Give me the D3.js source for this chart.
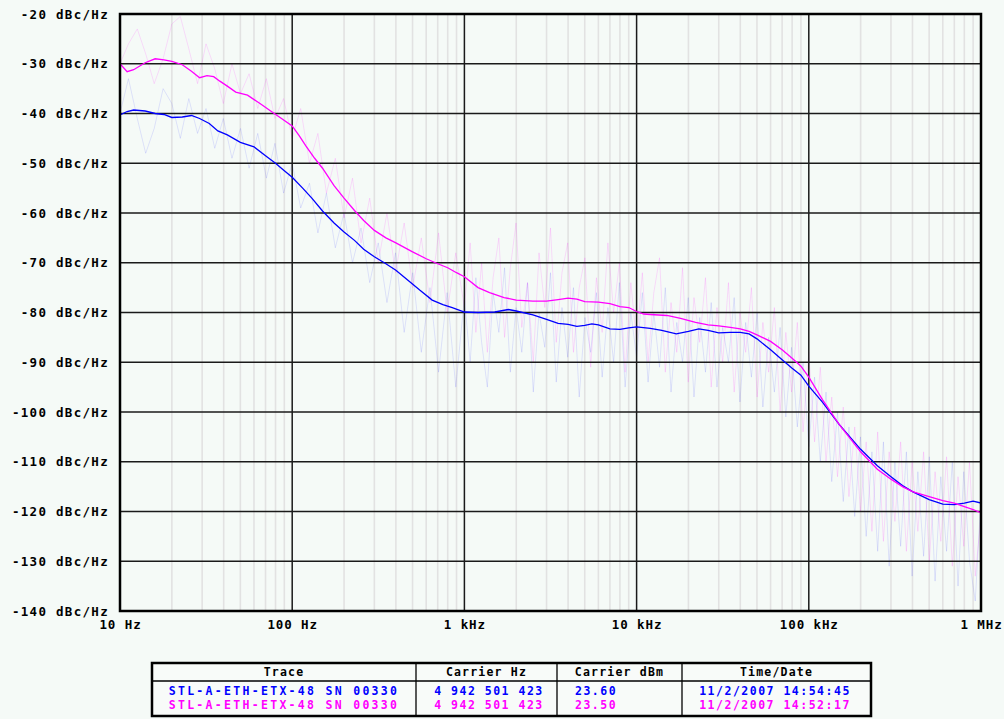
<!DOCTYPE html>
<html>
<head>
<meta charset="utf-8">
<script src="https://cdn.jsdelivr.net/npm/d3@7"></script>
<style>
  html, body { margin: 0; padding: 0; background: #f5faf7; }
  svg { display: block; }
  text { font-family: "DejaVu Sans Mono", monospace; font-weight: bold; }
</style>
</head>
<body>
<svg id="chart" width="1004" height="719"></svg>
<script>
// ---- Axis ticks ----
const yTicks = [-20, -30, -40, -50, -60, -70, -80, -90, -100, -110, -120, -130, -140];
const xTicks = [10, 100, 1000, 10000, 100000, 1000000];
const xTickLabels = ["10 Hz", "100 Hz", "1 kHz", "10 kHz", "100 kHz", "1 MHz"];

// ---- Smoothed phase-noise trace, blue (Hz, dBc/Hz) ----
const blueFreq = [10, 11, 12, 14, 16, 18, 20, 23, 26, 29, 33, 37, 42, 50, 60, 70, 80, 90, 100,
  115, 130, 150, 175, 200, 230, 260, 300, 350, 400, 470, 550, 650, 750, 850, 1000,
  1200, 1500, 1800, 2000, 2500, 3000, 3500, 4000, 4500, 5000, 5500, 6000, 7000, 8000, 9000, 10000,
  12000, 14000, 17000, 20000, 23000, 26000, 30000, 35000, 40000, 45000, 50000, 60000, 70000, 80000, 90000, 100000,
  120000, 150000, 200000, 250000, 300000, 350000, 400000, 500000, 600000, 700000, 800000, 900000, 1000000];
const blueDb = [-40.3, -39.6, -39.3, -39.5, -40, -40.2, -40.8, -40.7, -40.4, -41, -42, -43.5, -44.3, -45.8, -46.7, -48.5, -50, -51.5, -52.8,
  -55, -57, -59.6, -62, -63.8, -65.5, -67.3, -68.8, -70.2, -71.5, -73.5, -75.5, -77.5, -78.4, -79, -79.9,
  -80, -79.9, -79.4, -79.7, -80.5, -81.4, -82.2, -82.4, -82.8, -82.6, -82.3, -82.5, -83.3, -83.4, -83.1, -82.9,
  -83.2, -83.6, -84.3, -83.8, -83.3, -83.6, -84.1, -84, -84, -84.3, -85.3, -87.5, -89.5, -91.2, -92.6, -94.8,
  -98, -102.5, -107.5, -110.8, -113, -114.8, -116, -117.6, -118.5, -118.6, -118.3, -117.9, -118.3];

// ---- Smoothed phase-noise trace, magenta (Hz, dBc/Hz) ----
const magentaFreq = [10, 11, 12, 14, 16, 18, 20, 23, 26, 29, 32, 35, 38, 42, 47, 55, 65, 75, 85, 100,
  110, 120, 135, 150, 175, 200, 230, 260, 300, 350, 400, 500, 600, 700, 800, 900, 1000,
  1200, 1400, 1700, 2000, 2500, 3000, 3500, 4000, 4500, 5000, 6000, 7000, 8000, 9000, 10000, 11000,
  12000, 15000, 18000, 22000, 26000, 30000, 35000, 40000, 45000, 50000, 60000, 70000, 80000, 90000, 100000,
  120000, 150000, 200000, 250000, 300000, 350000, 400000, 500000, 600000, 700000, 800000, 900000, 1000000];
const magentaDb = [-30, -31.6, -31.2, -29.8, -29, -29.2, -29.5, -30.2, -31.5, -32.8, -32.4, -32.6, -33.5, -34.5, -35.7, -36.3, -38, -39.5, -40.8, -42.5,
  -44.5, -46.5, -49, -51, -54.5, -57, -59.5, -61.5, -63.5, -65, -66, -67.8, -69.2, -70.2, -71, -72, -72.8,
  -75, -76, -77, -77.5, -77.7, -77.7, -77.4, -77.1, -77.3, -77.8, -77.9, -78.2, -78.8, -79, -79.8, -80.3,
  -80.4, -80.6, -81.2, -82, -82.5, -82.7, -83, -83.3, -83.8, -84.5, -85.8, -87.5, -89.2, -90.8, -93,
  -97.5, -102.5, -108, -111.5, -113.5, -115, -116, -117, -117.8, -118.3, -119, -119.6, -120.3];

// ---- Unsmoothed measurement sweeps (Hz, dBc/Hz) ----
const rawFreq = [10, 11.2, 12.6, 14.1, 15.8, 17.8, 20, 22.4, 25.1, 28.2, 31.6, 35.5, 39.8, 44.7, 50.1, 56.2, 63.1, 70.8, 79.4, 89.1,
  100, 112, 126, 141, 158, 178, 200, 224, 251, 282, 316, 355, 398, 447, 501, 562, 631, 708, 794, 891,
  1000, 1080, 1166, 1259, 1359, 1468, 1585, 1711, 1848, 1995, 2154, 2326, 2512, 2712, 2929, 3162, 3415, 3687, 3981, 4299,
  4642, 5012, 5412, 5843, 6310, 6813, 7356, 7943, 8577, 9261,
  10000, 10800, 11660, 12590, 13590, 14680, 15850, 17110, 18480, 19950, 21540, 23260, 25120, 27120, 29290, 31620, 34150, 36870, 39810, 42990,
  46420, 50120, 54120, 58430, 63100, 68130, 73560, 79430, 85770, 92610,
  100000, 108000, 116600, 125900, 135900, 146800, 158500, 171100, 184800, 199500, 215400, 232600, 251200, 271200, 292900, 316200, 341500, 368700, 398100, 429900,
  464200, 501200, 541200, 584300, 631000, 681300, 735600, 794300, 857700, 926100, 1000000];
const rawMagentaDb = [-30, -26, -23, -28, -34, -29, -22, -20.5, -27, -34, -26, -31, -38, -30, -36, -32, -39, -33, -41, -37,
  -45, -39, -50, -44, -56, -49, -61, -53, -66, -57, -70, -60, -72, -62, -75, -65, -78, -64, -80, -68,
  -79, -66, -84, -70, -88, -73, -65, -85, -71, -62, -83, -74, -90, -68, -79, -63, -86, -72, -66, -88,
  -75, -69, -91, -73, -84, -66, -80, -70, -92, -74,
  -86, -72, -90, -76, -69, -92, -78, -88, -71, -94, -77, -86, -73, -95, -79, -90, -74, -96, -80, -88,
  -75, -97, -82, -92, -79, -100, -84, -96, -82, -104,
  -88, -106, -91, -110, -97, -113, -99, -117, -103, -120, -106, -124, -104, -126, -108, -122, -106, -128, -110, -124,
  -108, -130, -112, -126, -109, -131, -113, -127, -110, -133, -121];
const rawBlueDb = [-40, -33, -41, -48, -43, -35, -38, -45, -37, -44, -39, -47, -41, -49, -43, -51, -44, -53, -46, -56,
  -50, -59, -54, -64, -56, -67, -60, -70, -63, -74, -66, -78, -68, -84, -72, -88, -75, -92, -76, -95,
  -77, -90, -73, -86, -95, -76, -84, -71, -92, -79, -88, -74, -96, -80, -87, -72, -94, -79, -89, -75,
  -97, -81, -88, -76, -93, -79, -90, -74, -95, -80,
  -89, -76, -94, -80, -91, -75, -96, -82, -90, -77, -97, -81, -92, -78, -95, -83, -90, -77, -98, -82,
  -93, -80, -99, -85, -96, -83, -101, -87, -103, -90,
  -107, -93, -110, -96, -114, -100, -118, -103, -121, -105, -125, -108, -128, -106, -131, -110, -127, -108, -133, -112,
  -129, -109, -134, -113, -128, -110, -135, -112, -130, -138, -117];

// ---- Legend table ----
const legendColumns = ["Trace", "Carrier Hz", "Carrier dBm", "Time/Date"];
const traceNames = ["STL-A-ETH-ETX-48 SN 00330", "STL-A-ETH-ETX-48 SN 00330"];
const carrierHz = ["4 942 501 423", "4 942 501 423"];
const carrierDbm = ["23.60", "23.50"];
const timeDate = ["11/2/2007 14:54:45", "11/2/2007 14:52:17"];
const traceColors = ["#0000ff", "#ff00ff"];

// ---- Layout ----
const plot = { left: 120, right: 981, top: 14, bottom: 611 };
const svg = d3.select("#chart");

const x = d3.scaleLog().domain([10, 1e6]).range([plot.left, plot.right]);
const y = d3.scaleLinear().domain([-140, -20]).range([plot.bottom, plot.top]);

svg.append("rect").attr("width", 1004).attr("height", 719).attr("fill", "#f5faf7");

// Minor vertical grid (2..9 within each decade)
const minor = x.ticks().filter(v => !xTicks.includes(v));
svg.append("g").selectAll("line").data(minor).join("line")
  .attr("x1", d => x(d)).attr("x2", d => x(d))
  .attr("y1", plot.top).attr("y2", plot.bottom)
  .attr("stroke", "#e2e2e2").attr("stroke-width", 1.6);

// Clip region for the traces
svg.append("clipPath").attr("id", "plotClip").append("rect")
  .attr("x", plot.left).attr("y", plot.top)
  .attr("width", plot.right - plot.left).attr("height", plot.bottom - plot.top);

const line = d3.line().x(d => x(d[0])).y(d => y(d[1]));
const zip = (f, v) => f.map((fr, i) => [fr, v[i]]);

// Faint raw sweeps
const traces = svg.append("g").attr("clip-path", "url(#plotClip)");
traces.append("path").datum(zip(rawFreq, rawBlueDb))
  .attr("d", line).attr("fill", "none")
  .attr("stroke", "#0000ff").attr("stroke-opacity", 0.1).attr("stroke-width", 1);
traces.append("path").datum(zip(rawFreq, rawMagentaDb))
  .attr("d", line).attr("fill", "none")
  .attr("stroke", "#ff00ff").attr("stroke-opacity", 0.13).attr("stroke-width", 1);

// Major grid
const majorG = svg.append("g");
majorG.selectAll("line.v").data(xTicks).join("line").attr("class", "v")
  .attr("x1", d => x(d)).attr("x2", d => x(d))
  .attr("y1", plot.top).attr("y2", plot.bottom)
  .attr("stroke", "#1a1a1a").attr("stroke-width", 1.5);
majorG.selectAll("line.h").data(yTicks).join("line").attr("class", "h")
  .attr("x1", plot.left).attr("x2", plot.right)
  .attr("y1", d => y(d)).attr("y2", d => y(d))
  .attr("stroke", "#1a1a1a").attr("stroke-width", 1.5);

// Smoothed traces on top of the grid
const smooth = svg.append("g").attr("clip-path", "url(#plotClip)");
smooth.append("path").datum(zip(blueFreq, blueDb))
  .attr("d", line).attr("fill", "none")
  .attr("stroke", traceColors[0]).attr("stroke-width", 1.3);
smooth.append("path").datum(zip(magentaFreq, magentaDb))
  .attr("d", line).attr("fill", "none")
  .attr("stroke", traceColors[1]).attr("stroke-width", 1.3);

// Frame
svg.append("rect")
  .attr("x", plot.left).attr("y", plot.top)
  .attr("width", plot.right - plot.left).attr("height", plot.bottom - plot.top)
  .attr("fill", "none").attr("stroke", "#000").attr("stroke-width", 2.5);

// Axes
const yAxis = d3.axisLeft(y).tickValues(yTicks).tickSize(0).tickPadding(11)
  .tickFormat(d => d + " dBc/Hz");
svg.append("g").attr("transform", `translate(${plot.left},0)`).call(yAxis)
  .call(g => g.select(".domain").remove())
  .call(g => g.selectAll("text").attr("font-size", 12.5).attr("letter-spacing", 1.3)
    .attr("fill", "#000").attr("font-family", "DejaVu Sans Mono").attr("font-weight", "bold"));

const xAxis = d3.axisBottom(x).tickValues(xTicks).tickSize(0).tickPadding(9)
  .tickFormat((d, i) => xTickLabels[i]);
svg.append("g").attr("transform", `translate(0,${plot.bottom})`).call(xAxis)
  .call(g => g.select(".domain").remove())
  .call(g => g.selectAll("text").attr("font-size", 12.5).attr("letter-spacing", 0.9)
    .attr("fill", "#000").attr("font-family", "DejaVu Sans Mono").attr("font-weight", "bold"));

// Legend table
const colX = [152, 416, 557, 682, 871];
const tbl = { top: 663, head: 681, bottom: 716 };
const lg = svg.append("g");
lg.append("rect").attr("x", colX[0]).attr("y", tbl.top)
  .attr("width", colX[4] - colX[0]).attr("height", tbl.bottom - tbl.top)
  .attr("fill", "#f8fbf9").attr("stroke", "#000").attr("stroke-width", 2.5);
lg.append("line").attr("x1", colX[0]).attr("x2", colX[4])
  .attr("y1", tbl.head).attr("y2", tbl.head).attr("stroke", "#000").attr("stroke-width", 1.3);
lg.selectAll("line.col").data(colX.slice(1, 4)).join("line").attr("class", "col")
  .attr("x1", d => d).attr("x2", d => d).attr("y1", tbl.top).attr("y2", tbl.bottom)
  .attr("stroke", "#000").attr("stroke-width", 1.3);

const cellText = (sel) => sel.attr("font-size", 11.5).attr("dominant-baseline", "central")
  .attr("font-family", "DejaVu Sans Mono").attr("font-weight", "bold");

lg.selectAll("text.head").data(legendColumns).join("text").attr("class", "head")
  .attr("x", (d, i) => (colX[i] + colX[i + 1]) / 2).attr("y", 672)
  .attr("text-anchor", "middle").attr("fill", "#000").attr("letter-spacing", 1.2)
  .text(d => d).call(cellText);

const rowY = [691, 704.5];
traceNames.forEach((name, r) => {
  const c = traceColors[r];
  lg.append("text").attr("x", (colX[0] + colX[1]) / 2).attr("y", rowY[r])
    .attr("text-anchor", "middle").attr("fill", c).attr("letter-spacing", 2.3)
    .text(name).call(cellText);
  lg.append("text").attr("x", 489).attr("y", rowY[r])
    .attr("text-anchor", "middle").attr("fill", c).attr("letter-spacing", 1.5)
    .text(carrierHz[r]).call(cellText);
  lg.append("text").attr("x", 575).attr("y", rowY[r])
    .attr("text-anchor", "start").attr("fill", c).attr("letter-spacing", 1.5)
    .text(carrierDbm[r]).call(cellText);
  lg.append("text").attr("x", 775).attr("y", rowY[r])
    .attr("text-anchor", "middle").attr("fill", c).attr("letter-spacing", 1.5)
    .text(timeDate[r]).call(cellText);
});
</script>
</body>
</html>
